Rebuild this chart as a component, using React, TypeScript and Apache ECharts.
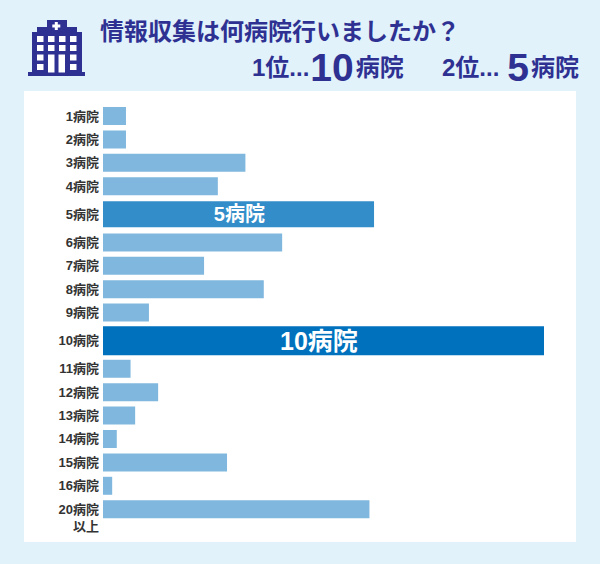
import { useRef, useEffect } from "react"
import * as echarts from "echarts"

const categories = [
  "1病院", "2病院", "3病院", "4病院", "5病院", "6病院", "7病院", "8病院", "9病院",
  "10病院", "11病院", "12病院", "13病院", "14病院", "15病院", "16病院", "20病院",
]
const counts = [5, 5, 31, 25, 59, 39, 22, 35, 10, 96, 6, 12, 7, 3, 27, 2, 58]
const highlightCategories = ["5病院", "10病院"]
const lastLabelSecondLine = "以上"

const titleText = "情報収集は何病院行いましたか？"
const rankings = [
  { rank: "1位...", number: "10", unit: "病院" },
  { rank: "2位...", number: "5", unit: "病院" },
]

const navy = "#2e3192"
const font = '"Liberation Sans", "Noto Sans CJK JP", sans-serif'
const highlightStyle: Record<string, { color: string; height: number; fontSize: number; labelAt: number }> = {
  "5病院": { color: "#338dc9", height: 26, fontSize: 20, labelAt: 29.7 },
  "10病院": { color: "#0071bc", height: 29, fontSize: 25, labelAt: 47 },
}

// rows are not evenly spaced: the highlighted ones take up more room
const rowCenters: number[] = []
let rowEnd = 0
categories.forEach((c) => {
  const span = highlightCategories.includes(c) ? 1.4 : 1
  rowCenters.push(rowEnd + span / 2)
  rowEnd += span
})
const lastCenter = rowCenters[rowCenters.length - 1]
const secondLineAt = lastCenter + 0.75
const labelValues = [...rowCenters, secondLineAt]

function hospitalIcon() {
  const windows: any[] = []
  const colX = [37, 48, 59, 70]
  const rowY = [36, 45, 54.5, 64]
  rowY.forEach((y, r) => {
    colX.forEach((x, c) => {
      if (r >= 2 && (c === 1 || c === 2)) return
      windows.push({ type: "rect", shape: { x, y, width: 6.5, height: 6 }, style: { fill: "#fff" } })
    })
  })
  return [
    { type: "rect", shape: { x: 47, y: 20, width: 20, height: 8 }, style: { fill: navy } },
    { type: "rect", shape: { x: 37, y: 27, width: 40, height: 6 }, style: { fill: navy } },
    { type: "rect", shape: { x: 32, y: 32, width: 50, height: 41 }, style: { fill: navy } },
    { type: "rect", shape: { x: 28, y: 72, width: 57, height: 4 }, style: { fill: navy } },
    { type: "rect", shape: { x: 54.8, y: 22, width: 3, height: 8 }, style: { fill: "#fff" } },
    { type: "rect", shape: { x: 52.3, y: 24.5, width: 8, height: 3 }, style: { fill: "#fff" } },
    ...windows,
    { type: "rect", shape: { x: 48, y: 54.5, width: 6.5, height: 18 }, style: { fill: "#fff" } },
    { type: "rect", shape: { x: 58.5, y: 54.5, width: 6.5, height: 18 }, style: { fill: "#fff" } },
  ].map((e) => ({ ...e, z: 1 }))
}

function rankingText(x: number, r: { rank: string; number: string; unit: string }, padLeft: number, padRight: number) {
  return {
    type: "text",
    x,
    y: 67,
    z: 1,
    style: {
      text: `{a|${r.rank}}{b|${r.number}}{a|${r.unit}}`,
      fill: navy,
      verticalAlign: "middle",
      rich: {
        a: { fontSize: 24, fontWeight: "bold", fontFamily: font, fill: navy, lineHeight: 28 },
        b: {
          fontSize: 39,
          fontWeight: "bold",
          fontFamily: font,
          fill: navy,
          lineHeight: 28,
          padding: [0, padRight, 0, padLeft],
        },
      },
    },
  }
}

export default function App() {
  const chartRef = useRef<HTMLDivElement>(null)

  useEffect(() => {
    if (!chartRef.current) return
    document.body.style.margin = "0"

    const instance = echarts.init(chartRef.current, undefined, { renderer: "svg" })

    instance.setOption({
      animation: false,
      backgroundColor: "#e1f2fb",
      grid: { left: 103, top: 104.3, width: 441, height: 440 },
      xAxis: { type: "value", min: 0, max: 96, show: false },
      yAxis: {
        type: "value",
        inverse: true,
        min: 0,
        max: rowEnd + 1,
        axisLine: { show: false },
        axisTick: { show: false },
        splitLine: { show: false },
        axisLabel: {
          customValues: labelValues,
          margin: 4,
          fontSize: 13,
          fontWeight: "bold",
          fontFamily: font,
          color: "#333333",
          formatter: (v: number) => {
            if (Math.abs(v - secondLineAt) < 0.01) return lastLabelSecondLine
            const i = rowCenters.findIndex((c) => Math.abs(c - v) < 0.01)
            return i >= 0 ? categories[i] : ""
          },
        },
      },
      graphic: [
        {
          type: "rect",
          z: -1,
          shape: { x: 24, y: 91, width: 552, height: 451 },
          style: { fill: "#ffffff" },
        },
        ...hospitalIcon(),
        {
          type: "text",
          x: 100,
          y: 31,
          z: 1,
          style: {
            text: titleText,
            fill: navy,
            fontSize: 24,
            fontWeight: "bold",
            fontFamily: font,
            verticalAlign: "middle",
          },
        },
        rankingText(252, rankings[0], 1, 2),
        rankingText(442, rankings[1], 8, 2),
      ],
      series: [
        {
          type: "custom",
          clip: false,
          data: counts.map((v, i) => [v, rowCenters[i], i]),
          encode: { x: 0, y: 1 },
          renderItem: (_params: any, api: any) => {
            const value = api.value(0)
            const category = categories[api.value(2)]
            const end = api.coord([value, api.value(1)])
            const start = api.coord([0, api.value(1)])
            const hl = highlightStyle[category]
            const height = hl ? hl.height : 18
            const children: any[] = [
              {
                type: "rect",
                shape: { x: start[0], y: end[1] - height / 2, width: end[0] - start[0], height },
                style: { fill: hl ? hl.color : "#80b7de" },
              },
            ]
            if (hl) {
              children.push({
                type: "text",
                x: api.coord([hl.labelAt, api.value(1)])[0],
                y: end[1],
                style: {
                  text: category,
                  fill: "#ffffff",
                  fontSize: hl.fontSize,
                  fontWeight: "bold",
                  fontFamily: font,
                  align: "center",
                  verticalAlign: "middle",
                },
              })
            }
            return { type: "group", children }
          },
        },
      ],
    })

    return () => {
      instance.dispose()
    }
  }, [])

  return <div ref={chartRef} style={{ width: 600, height: 564 }} />
}
